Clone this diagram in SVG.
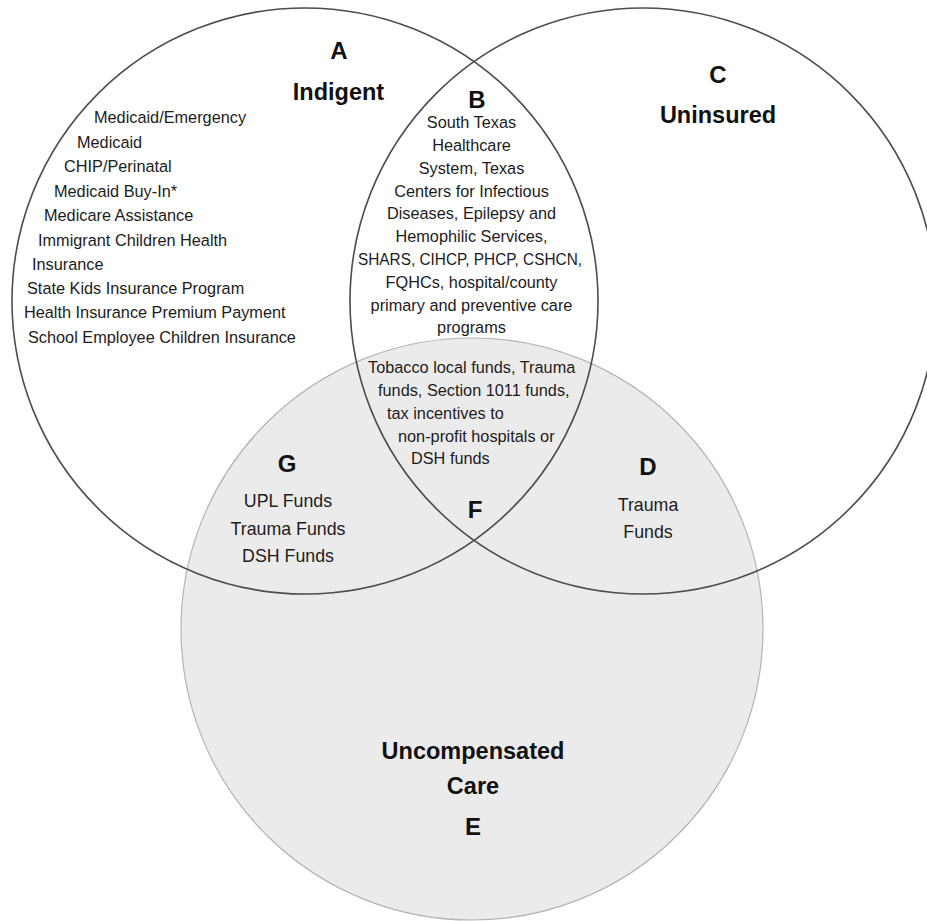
<svg xmlns="http://www.w3.org/2000/svg" width="927" height="921" viewBox="0 0 927 921">
  <style>
    .set { fill: none; stroke: #4d4d4d; stroke-width: 1.6; }
    .uc { fill: #ecebeb; stroke: #b4b4b4; stroke-width: 1.2; }
    text { font-family: "Liberation Sans", Arial, sans-serif; fill: #1c1c1c; }
    .letter { font-size: 24px; font-weight: bold; text-anchor: middle; fill: #111; }
    .title { font-size: 23.5px; font-weight: bold; text-anchor: middle; fill: #111; }
    .body { font-size: 16.3px; }
    .mid { text-anchor: middle; }
    .big { font-size: 17.8px; text-anchor: middle; }
  </style>
  <rect x="0" y="0" width="927" height="921" fill="#ffffff"/>

  <g id="set-e-uncompensated-care">
    <circle class="uc" cx="472" cy="629" r="291"/>
  </g>
  <g id="set-a-indigent">
    <circle class="set" cx="305" cy="301" r="293"/>
  </g>
  <g id="set-c-uninsured">
    <circle class="set" cx="643" cy="301" r="293"/>
  </g>

  <g id="region-a">
    <text class="letter" x="339" y="59">A</text>
    <text class="title" x="338.5" y="100">Indigent</text>
    <text class="body" x="94" y="123">Medicaid/Emergency</text>
    <text class="body" x="77" y="148">Medicaid</text>
    <text class="body" x="64" y="172">CHIP/Perinatal</text>
    <text class="body" x="54" y="197">Medicaid Buy-In*</text>
    <text class="body" x="44" y="221">Medicare Assistance</text>
    <text class="body" x="38" y="246">Immigrant Children Health</text>
    <text class="body" x="32" y="270">Insurance</text>
    <text class="body" x="27" y="294">State Kids Insurance Program</text>
    <text class="body" x="24" y="318">Health Insurance Premium Payment</text>
    <text class="body" x="28" y="343">School Employee Children Insurance</text>
  </g>

  <g id="region-b">
    <text class="letter" x="477" y="108">B</text>
    <text class="body mid" x="471.5" y="128">South Texas</text>
    <text class="body mid" x="471.5" y="151">Healthcare</text>
    <text class="body mid" x="471.5" y="173.5">System, Texas</text>
    <text class="body mid" x="471.5" y="196.5">Centers for Infectious</text>
    <text class="body mid" x="471.5" y="219">Diseases, Epilepsy and</text>
    <text class="body mid" x="471.5" y="242">Hemophilic Services,</text>
    <text class="body mid" x="470" y="265" textLength="224" lengthAdjust="spacingAndGlyphs">SHARS, CIHCP, PHCP, CSHCN,</text>
    <text class="body mid" x="471.5" y="288">FQHCs, hospital/county</text>
    <text class="body mid" x="471.5" y="310.5">primary and preventive care</text>
    <text class="body mid" x="471.5" y="333">programs</text>
  </g>

  <g id="region-c">
    <text class="letter" x="718" y="83">C</text>
    <text class="title" x="718" y="123">Uninsured</text>
  </g>

  <g id="region-f">
    <text class="body" x="368" y="372.5">Tobacco local funds, Trauma</text>
    <text class="body" x="378" y="395.5">funds, Section 1011 funds,</text>
    <text class="body" x="387" y="418.5">tax incentives to</text>
    <text class="body" x="398" y="442">non-profit hospitals or</text>
    <text class="body" x="411" y="464">DSH funds</text>
    <text class="letter" x="475" y="518">F</text>
  </g>

  <g id="region-g">
    <text class="letter" x="287" y="472">G</text>
    <text class="big" x="288" y="507">UPL Funds</text>
    <text class="big" x="288" y="534.5">Trauma Funds</text>
    <text class="big" x="288" y="562">DSH Funds</text>
  </g>

  <g id="region-d">
    <text class="letter" x="648" y="475">D</text>
    <text class="big" x="648" y="511">Trauma</text>
    <text class="big" x="648" y="538">Funds</text>
  </g>

  <g id="region-e">
    <text class="title" x="473" y="759">Uncompensated</text>
    <text class="title" x="473" y="793.5">Care</text>
    <text class="letter" x="473" y="835">E</text>
  </g>
</svg>
